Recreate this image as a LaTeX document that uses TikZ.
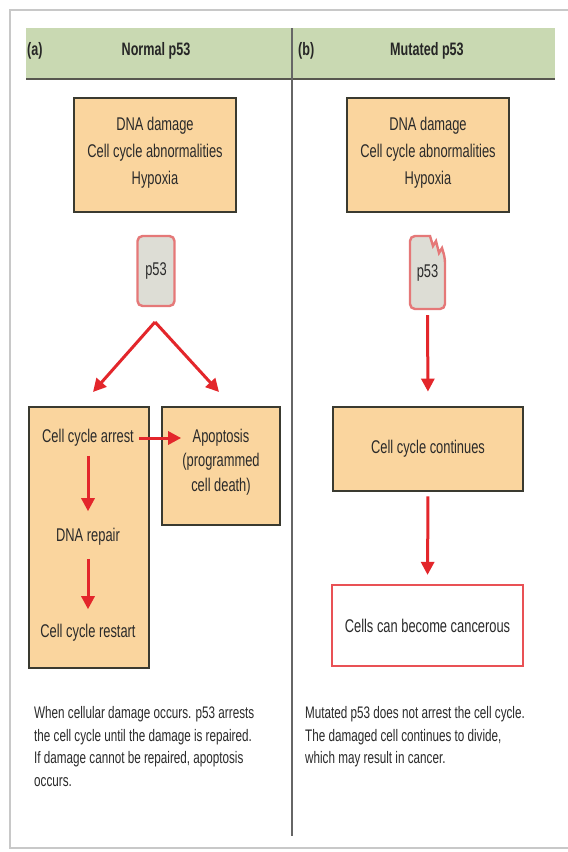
\documentclass[tikz,border=0pt]{standalone}
\usepackage{fontspec}
\setmainfont{Liberation Sans}[FakeStretch=0.7]
\usetikzlibrary{arrows.meta}
\definecolor{boxfill}{HTML}{FAD59E}
\definecolor{boxline}{HTML}{3A3A30}
\definecolor{hdr}{HTML}{C9D9B2}
\definecolor{arrowred}{HTML}{E3262B}
\definecolor{pfill}{HTML}{DDDDD5}
\definecolor{pline}{HTML}{E57878}
\definecolor{txt}{HTML}{2A2A2A}
\definecolor{framegray}{HTML}{C8C8C8}
\begin{document}
\begin{tikzpicture}[x=1pt,y=-1pt,
  orangebox/.style={draw=boxline,line width=2.8pt,fill=boxfill,minimum width=#1,inner sep=0pt},
  ptxt/.style={text=txt,font=\fontsize{18.4}{27}\selectfont,align=center,inner sep=1pt},
  boxtxt/.style={text=txt,font=\fontsize{18.4}{24.5}\selectfont,align=center,inner sep=1pt},
  hdrtxt/.style={text=black!85,font=\bfseries\fontsize{18}{20}\selectfont,inner sep=0pt},
  captxt/.style={text=txt,font=\fontsize{16.7}{22.7}\selectfont,align=left,anchor=north west,inner sep=0pt},
  pbox/.style={draw=pline,line width=2.4pt,fill=pfill},
  redarrow/.style={draw=arrowred,line width=3pt,-{Triangle[width=13pt,length=13pt]}}
]
\useasboundingbox (0,0) rectangle (568,852);
\fill[white] (0,0) rectangle (568,852);
% outer frame
\draw[framegray,line width=2.4pt] (572,10) -- (10,10) -- (10,848) -- (572,848);
% header
\fill[hdr] (26,28) rectangle (555,79);
\draw[boxline!85,line width=2.8pt] (26,79) -- (555,79);
\draw[black!60,line width=1.5pt] (292,28) -- (292,836);
\node[hdrtxt,anchor=west] (ha) at (27,51) {(a)};
\node[hdrtxt] (hna) at (156,51) {Normal p53};
\node[hdrtxt,anchor=west] (hb) at (298,51) {(b)};
\node[hdrtxt] (hnb) at (427,51) {Mutated p53};

% ---------- (a) ----------
\node[orangebox=162pt,minimum height=114pt] (dnaa) at (155,155) {};
\node[ptxt] (dnaat) at (155,153) {DNA damage\\Cell cycle abnormalities\\Hypoxia};
\node[pbox,rounded corners=5pt,minimum width=37pt,minimum height=70pt,inner sep=0pt,text=txt,font=\fontsize{18.4}{20}\selectfont] (p53a) at (156,271) {p53};
\coordinate (apex) at (155,322);
\coordinate (la) at (93,392);
\coordinate (ra) at (219,392);
\draw[redarrow] (apex) -- (la);
\draw[redarrow] (apex) -- (ra);

\node[orangebox=120pt,minimum height=261pt] (arrbox) at (89,537.5) {};
\node[orangebox=118pt,minimum height=118pt] (apbox) at (221,466) {};
\node[boxtxt] (arrest) at (88,438) {Cell cycle arrest};
\node[boxtxt] (repair) at (88,537) {DNA repair};
\node[boxtxt] (restart) at (88,633) {Cell cycle restart};
\node[boxtxt] (apop) at (221,462) {Apoptosis\\(programmed\\cell death)};
\draw[redarrow,shorten <=4pt] (arrest.east) -- (arrest.east -| apop.west);
\draw[redarrow,shorten <=8pt,shorten >=16pt] (arrest.south) -- (repair.north);
\draw[redarrow,shorten <=12pt,shorten >=14pt] (repair.south) -- (restart.north);

\node[captxt] (capa) at (34,706) {When cellular damage occurs. p53 arrests\\the cell cycle until the damage is repaired.\\If damage cannot be repaired, apoptosis\\occurs.};

% ---------- (b) ----------
\node[orangebox=162pt,minimum height=114pt] (dnab) at (428,155) {};
\node[ptxt] (dnabt) at (428,153) {DNA damage\\Cell cycle abnormalities\\Hypoxia};
\draw[pbox] (433,246) -- (430,236) [rounded corners=5pt] -- (410,236) -- (410,309) -- (445,309) -- (445,258) [sharp corners] -- (442,248) -- (439,253) -- (436,241) -- cycle;
\node[text=txt,font=\fontsize{18.4}{20}\selectfont,inner sep=0pt,minimum width=35pt,minimum height=73pt] (p53b) at (427.5,272.5) {p53};
\node[orangebox=190pt,minimum height=84pt,text=txt,font=\fontsize{18.4}{20}\selectfont] (cont) at (428,449) {Cell cycle continues};
\node[draw=arrowred!80,line width=2.2pt,fill=white,minimum width=191pt,minimum height=81pt,inner sep=0pt,text=txt,font=\fontsize{18.4}{20}\selectfont] (canc) at (427.5,625.5) {Cells can become cancerous};
\draw[redarrow,shorten <=6pt,shorten >=14pt] (p53b.south) -- (cont.north);
\draw[redarrow,shorten <=4pt,shorten >=9pt] (cont.south) -- (canc.north);

\node[captxt] (capb) at (305,706) {Mutated p53 does not arrest the cell cycle.\\The damaged cell continues to divide,\\which may result in cancer.};
\end{tikzpicture}
\end{document}
